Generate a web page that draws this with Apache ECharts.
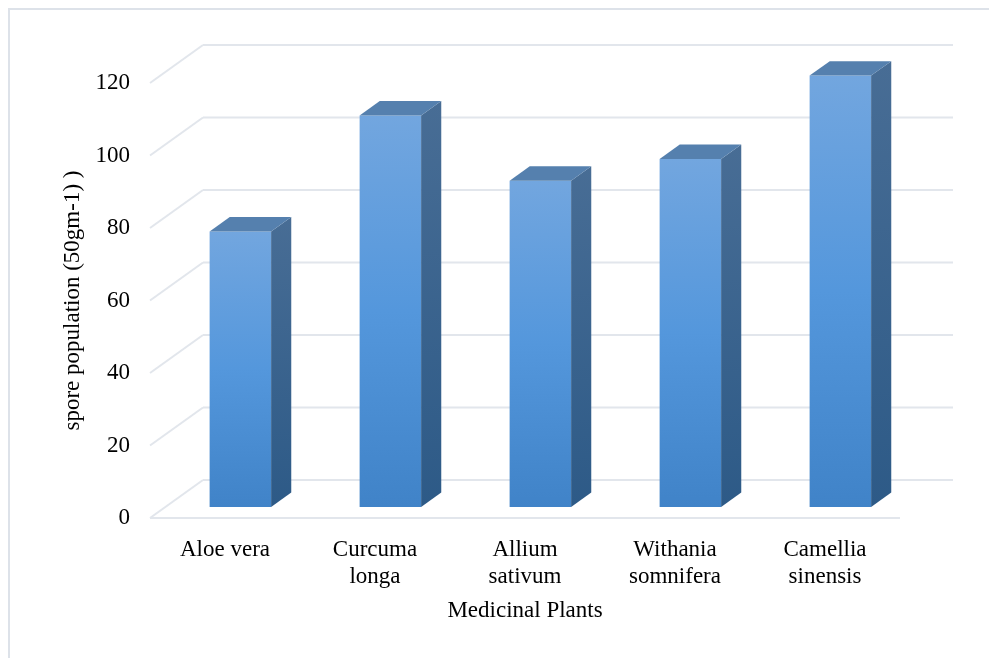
<!DOCTYPE html>
<html>
<head>
<meta charset="utf-8">
<style>
  html, body { margin: 0; padding: 0; background: #ffffff; }
  #chart { width: 989px; height: 658px; }
</style>
<script src="https://cdn.jsdelivr.net/npm/echarts@6/dist/echarts.min.js"></script>
</head>
<body>
<div id="chart"></div>
<script>
// Spore population per medicinal plant
const plants = ['Aloe vera', 'Curcuma\nlonga', 'Allium\nsativum', 'Withania\nsomnifera', 'Camellia\nsinensis'];
const sporePopulation = [76, 108, 90, 96, 119];
const yTicks = [0, 20, 40, 60, 80, 100, 120];

// Depth of the 3D box (back wall offset from the front plane, in px)
const DX = 53, DY = -38;
// Bar placement along the depth and its own thickness (fractions of the box depth)
const BAR_FRONT = 0.29, BAR_DEPTH = 0.38;
const BAR_WIDTH = 0.41;
const FONT = '"Liberation Serif", "Times New Roman", serif';

const chart = echarts.init(document.getElementById('chart'), null, { renderer: 'canvas' });

function renderGrid(params, api) {
  const v = api.value(1);
  const cs = params.coordSys;
  const y = api.coord([0, v])[1];
  const left = cs.x, right = cs.x + cs.width;
  const lineStyle = { stroke: '#e2e6ec', lineWidth: 2, fill: null };
  const children = [
    { type: 'line', shape: { x1: left, y1: y, x2: left + DX, y2: y + DY }, style: lineStyle },
    { type: 'line', shape: { x1: left + DX, y1: y + DY, x2: right + DX, y2: y + DY }, style: lineStyle }
  ];
  if (v === 0) {
    children.push({ type: 'line', shape: { x1: left, y1: y, x2: right, y2: y }, style: lineStyle });
  }
  return { type: 'group', children: children };
}

function renderBar(params, api) {
  const idx = api.value(0), v = api.value(1);
  const base = api.coord([idx, 0]);
  const top = api.coord([idx, v]);
  const w = api.size([1, 0])[0] * BAR_WIDTH;
  const ox = BAR_FRONT * DX, oy = BAR_FRONT * DY;
  const dx = BAR_DEPTH * DX, dy = BAR_DEPTH * DY;
  const x0 = base[0] + ox - w / 2, x1 = x0 + w;
  const yb = base[1] + oy, yt = top[1] + oy;
  return {
    type: 'group',
    children: [
      {
        type: 'rect',
        shape: { x: x0, y: yt, width: w, height: yb - yt },
        style: {
          fill: new echarts.graphic.LinearGradient(0, 0, 0, 1, [
            { offset: 0, color: '#72a6df' },
            { offset: 0.5, color: '#5497dc' },
            { offset: 1, color: '#4083c8' }
          ])
        }
      },
      {
        type: 'polygon',
        shape: { points: [[x1, yt], [x1 + dx, yt + dy], [x1 + dx, yb + dy], [x1, yb]] },
        style: {
          fill: new echarts.graphic.LinearGradient(0, 0, 0, 1, [
            { offset: 0, color: '#486d95' },
            { offset: 1, color: '#2d5a87' }
          ])
        }
      },
      {
        type: 'polygon',
        shape: { points: [[x0, yt], [x1, yt], [x1 + dx, yt + dy], [x0 + dx, yt + dy]] },
        style: { fill: '#5580ae' }
      }
    ]
  };
}

chart.setOption({
  backgroundColor: '#ffffff',
  animation: false,
  graphic: [
    {
      type: 'rect',
      z: -10,
      shape: { x: 9, y: 9, width: 1000, height: 700 },
      style: { fill: null, stroke: '#dde2e9', lineWidth: 2 }
    }
  ],
  grid: { left: 150, right: 89, top: 83, bottom: 140 },
  xAxis: {
    type: 'category',
    data: plants,
    boundaryGap: true,
    axisLine: { show: false },
    axisTick: { show: false },
    axisLabel: {
      interval: 0,
      margin: 18,
      color: '#000000',
      fontFamily: FONT,
      fontSize: 23,
      lineHeight: 27
    },
    name: 'Medicinal Plants',
    nameLocation: 'middle',
    nameGap: 81,
    nameTextStyle: { color: '#000000', fontFamily: FONT, fontSize: 23 }
  },
  yAxis: {
    type: 'value',
    min: 0,
    max: 120,
    interval: 20,
    axisLine: { show: false },
    axisTick: { show: false },
    splitLine: { show: false },
    axisLabel: {
      margin: 20,
      color: '#000000',
      fontFamily: FONT,
      fontSize: 23
    },
    name: 'spore population (50gm-1) )',
    nameLocation: 'middle',
    nameGap: 63,
    nameTextStyle: { color: '#000000', fontFamily: FONT, fontSize: 23 }
  },
  series: [
    {
      type: 'custom',
      z: 1,
      silent: true,
      renderItem: renderGrid,
      data: yTicks.map(function (t) { return [0, t]; })
    },
    {
      type: 'custom',
      z: 2,
      renderItem: renderBar,
      data: sporePopulation.map(function (v, i) { return [i, v]; })
    }
  ]
});
</script>
</body>
</html>
